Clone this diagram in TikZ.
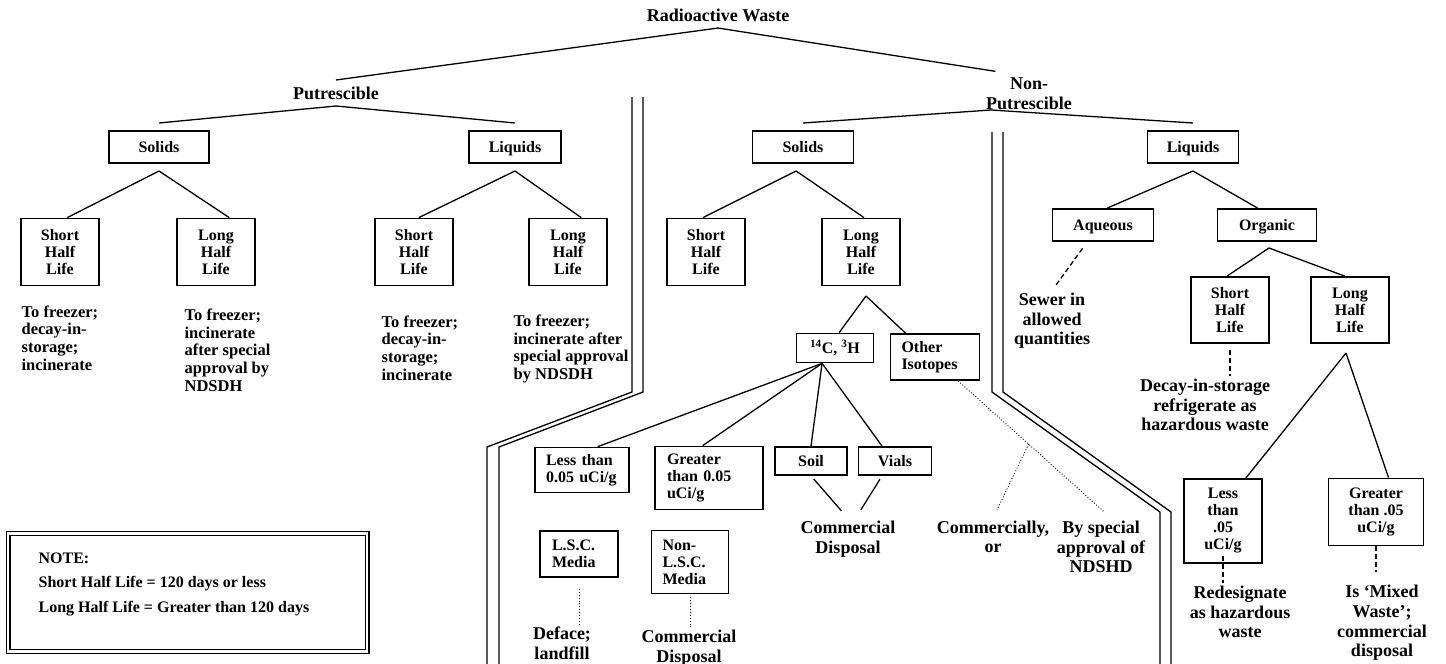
\documentclass[tikz,border=0pt]{standalone}
\usepackage{fontspec}
\setmainfont{Liberation Serif}
\newcommand{\boxtxt}{\fontsize{16}{17}\selectfont\bfseries}
\newcommand{\leaftxt}{\fontsize{18}{19.6}\selectfont\bfseries}
\newcommand{\headtxt}{\fontsize{18}{20}\selectfont\bfseries}
\newcommand{\freezetxt}{\fontsize{16.5}{17.7}\selectfont\bfseries}
\newcommand{\notetxt}{\fontsize{16}{24.5}\selectfont\bfseries}

\begin{document}
\begin{tikzpicture}
  [x=1pt,y=-1pt,line width=1.3pt,every node/.style={inner sep=0pt}]

  \tikzstyle{box} = [draw, line width=1.8pt, align=center, font=\boxtxt]
  \tikzstyle{one} = [box, text height=11pt, text depth=0.4pt]
  \tikzstyle{lbox} = [box, align=left]
  \tikzstyle{cat} = [one, minimum height=32pt, outer ysep=8pt]
  \tikzstyle{hl} = [box, minimum width=78pt, minimum height=67pt]
  \tikzstyle{leaf} = [font=\leaftxt, align=center, inner sep=2pt]
  \tikzstyle{head} = [font=\headtxt, align=center, inner sep=6pt]
  \tikzstyle{todo} = [font=\freezetxt, align=left, anchor=west]
  \tikzstyle{dsh} = [dash pattern=on 5pt off 3pt]
  \tikzstyle{dots} = [dotted, line width=0.9pt]

  \useasboundingbox (0,0) rectangle (1446,664);

  \node[head] (rw) at (718,15) {Radioactive Waste};
  \node[head] (pu) at (336,93) {Putrescible};
  \node[head] (np) at (1029,94) {Non-\\Putrescible};

  \node[cat, minimum width=100pt] (sP) at (159,147) {Solids};
  \node[cat, minimum width=92pt]  (lP) at (515,147) {Liquids};
  \node[cat, minimum width=101pt] (sN) at (803,147) {Solids};
  \node[cat, minimum width=91pt]  (lN) at (1193,147) {Liquids};

  \node[hl] (sPs) at (60,252)  {Short\\Half\\Life};
  \node[hl] (sPl) at (216,252) {Long\\Half\\Life};
  \node[hl] (lPs) at (414,252) {Short\\Half\\Life};
  \node[hl] (lPl) at (568,252) {Long\\Half\\Life};
  \node[hl] (sNs) at (706,252) {Short\\Half\\Life};
  \node[hl] (sNl) at (861,252) {Long\\Half\\Life};

  \node[todo] (tsPs) at (21,338)  {To freezer;\\decay-in-\\storage;\\incinerate};
  \node[todo] (tsPl) at (184,350) {To freezer;\\incinerate\\after special\\approval by\\NDSDH};
  \node[todo] (tlPs) at (381,348) {To freezer;\\decay-in-\\storage;\\incinerate};
  \node[todo] (tlPl) at (513,349) {To freezer;\\incinerate after\\special approval\\by NDSDH};

  \node[one, minimum width=77pt, minimum height=29pt] (iso) at (835,348) {\textsuperscript{14}C, \textsuperscript{3}H};
  \node[lbox, minimum width=89pt, minimum height=46pt, text width=67pt] (oth) at (935,357) {Other\\Isotopes};
  \node[lbox, minimum width=94pt, minimum height=45pt, text width=72pt] (less) at (582,470) {Less than\\0.05 uCi/g};
  \node[lbox, minimum width=108pt, minimum height=63pt, text width=84pt] (grt) at (709,478) {Greater\\than 0.05\\uCi/g};
  \node[lbox, one, minimum width=72pt, minimum height=28pt, text width=48pt] (soil) at (811,461) {Soil};
  \node[lbox, one, minimum width=73pt, minimum height=28pt, text width=49pt] (vial) at (895,461) {Vials};
  \node[lbox, minimum width=78pt, minimum height=46pt, text width=54pt] (lsc) at (579,554) {L.S.C.\\Media};
  \node[lbox, minimum width=77pt, minimum height=63pt, text width=55pt] (nlsc) at (690,562) {Non-\\L.S.C.\\Media};

  \node[one, minimum width=101pt, minimum height=32pt] (aq) at (1103,225) {Aqueous};
  \node[one, minimum width=99pt, minimum height=32pt]  (org) at (1267,225) {Organic};
  \node[hl, minimum height=66pt] (oNs) at (1230,310) {Short\\Half\\Life};
  \node[hl, minimum height=66pt] (oNl) at (1350,310) {Long\\Half\\Life};
  \node[box, minimum width=78pt, minimum height=84pt] (oless) at (1223,521) {Less\\than\\.05\\uCi/g};
  \node[box, minimum width=95pt, minimum height=67pt] (ogrt) at (1376,512) {Greater\\than .05\\uCi/g};

  \node[leaf] (cd1) at (848,539)  {Commercial\\Disposal};
  \node[leaf] (df)  at (562,643)  {Deface;\\landfill};
  \node[leaf] (cd2) at (689,648)  {Commercial\\Disposal};
  \node[leaf] (com) at (993,537)  {Commercially,\\or};
  \node[leaf] (spc) at (1101,547) {By special\\approval of\\NDSHD};
  \node[leaf] (sew) at (1052,321) {Sewer in\\allowed\\quantities};
  \node[leaf] (dec) at (1205,405) {Decay-in-storage\\refrigerate as\\hazardous waste};
  \node[leaf] (red) at (1240,612) {Redesignate\\as hazardous\\waste};
  \node[leaf] (mix) at (1382,623) {Is `Mixed\\Waste';\\commercial\\disposal};

  \node[draw, double, double distance=2.5pt, line width=1.4pt, minimum width=359pt,
        minimum height=118pt, anchor=north west] (note) at (7.5,533) {};
  \node[font=\notetxt, align=left, anchor=north west] (notetxt) at (38,552)
        {NOTE:\\Short Half Life = 120 days or less\\Long Half Life = Greater than 120 days};

  \coordinate (npfork) at (991,110);
  \coordinate (sNlfork) at (866,296);
  \coordinate (orgfork) at (1269,248);
  \coordinate (oNlfork) at (1346,353);

  \path (rw.south) edge (pu.north) edge (np.146)
        (pu.south) edge (sP.north) edge (lP.north)
        (npfork) edge (sN.north) edge (lN.north)
        (sP.south) edge (sPs.78) edge (sPl.69)
        (lP.south) edge (lPs.82) edge (lPl.69)
        (sN.-106) edge (sNs.95) edge (sNl.85)
        (lN.south) edge (aq.76) edge (org.119)
        (sNlfork) edge (iso.75) edge (oth.141)
        (iso.-130) edge (less.56) edge (grt.101) edge (soil.north) edge (vial.131)
        (orgfork) edge (oNs.95) edge (oNl.99)
        (oNlfork) edge (oless.62) edge (ogrt.70);
  \path (soil.south) edge[shorten <=4pt, shorten >=10pt] (cd1.north)
        (vial.-131) edge[shorten <=4pt, shorten >=10pt] (cd1.70);

  \draw[dsh, shorten <=8pt, shorten >=6pt] (aq.-133) -- (sew.north);
  \draw[dsh, shorten <=6pt] (oNs.south) -- (oNs.south |- dec.north);
  \draw[dsh, shorten <=-8pt] (oless.south) -- (oless.south |- red.north);
  \draw[dsh, shorten >=11pt] (ogrt.south) -- (ogrt.south |- mix.north);

  \draw[dots, shorten <=11pt] (lsc.south) -- (lsc.south |- df.north);
  \draw[dots, shorten <=3pt] (nlsc.south) -- (nlsc.south |- cd2.north);
  \draw[dots, shorten >=10pt] (oth.-46) -- coordinate[pos=0.46] (othfork) (spc.70);
  \draw[dots, shorten >=9pt] (othfork) -- (com.north);

  \draw (632,97) -- (632,392) -- (487,447) -- (487,664);
  \draw (643,97) -- (643,392) -- (499,447) -- (499,664);
  \draw (992,132) -- (992,392) -- (1160,512) -- (1160,664);
  \draw (1003,132) -- (1003,392) -- (1171,512) -- (1171,664);
\end{tikzpicture}
\end{document}
